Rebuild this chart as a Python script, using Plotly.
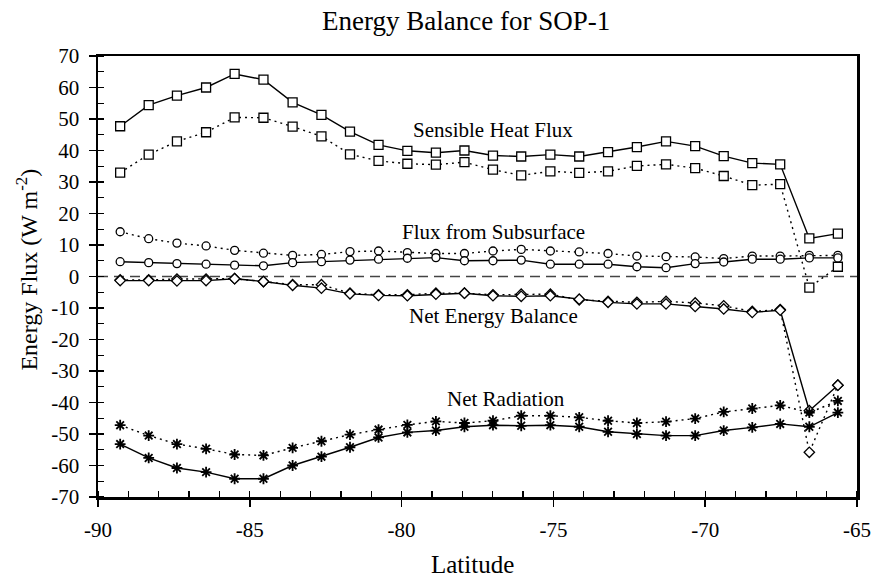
import plotly.graph_objects as go

latitude = [-89.27, -88.33, -87.40, -86.44, -85.50, -84.55, -83.59, -82.64, -81.70,
            -80.76, -79.81, -78.87, -77.93, -76.99, -76.06, -75.10, -74.15, -73.20,
            -72.25, -71.29, -70.33, -69.39, -68.45, -67.53, -66.57, -65.63]

sensible_solid = [47.7, 54.4, 57.4, 60.0, 64.3, 62.5, 55.3, 51.3, 46.0, 41.8, 39.9, 39.3, 40.0,
                  38.4, 38.1, 38.7, 38.1, 39.5, 41.1, 42.9, 41.4, 38.2, 36.0, 35.6, 12.1, 13.6]
sensible_dotted = [33.0, 38.7, 42.9, 45.8, 50.5, 50.4, 47.6, 44.5, 38.8, 36.7, 35.8, 35.5, 36.3,
                   33.9, 32.1, 33.4, 32.9, 33.4, 35.1, 35.6, 34.4, 31.9, 29.0, 29.3, -3.5, 3.1]

subsurf_solid = [4.7, 4.4, 4.1, 3.9, 3.6, 3.4, 4.4, 4.7, 5.2, 5.5, 5.8, 6.0, 5.0,
                 5.0, 5.2, 3.9, 3.9, 3.9, 3.1, 2.8, 4.1, 4.6, 5.5, 5.5, 5.9, 5.9]
subsurf_dotted = [14.2, 12.0, 10.6, 9.7, 8.3, 7.4, 6.7, 7.0, 7.9, 8.1, 7.6, 7.3, 7.3,
                  8.1, 8.6, 8.1, 7.8, 7.3, 6.5, 6.3, 6.2, 5.7, 6.5, 6.5, 6.7, 6.7]

balance_solid = [-1.3, -1.3, -1.4, -1.3, -0.7, -1.6, -2.8, -3.7, -5.5, -6.0, -6.1, -5.6, -5.3,
                 -6.1, -6.3, -6.1, -7.2, -8.2, -8.7, -8.7, -9.5, -10.3, -11.4, -10.7, -42.6, -34.5]
balance_dotted = [-1.1, -1.1, -0.8, -0.8, -0.7, -1.6, -2.6, -2.6, -5.3, -5.8, -5.8, -5.3, -5.3,
                  -5.8, -5.6, -5.6, -7.4, -7.9, -8.2, -7.9, -8.4, -9.3, -11.1, -10.5, -55.8, -34.5]

radiation_solid = [-53.2, -57.6, -60.8, -62.1, -64.2, -64.2, -60.0, -57.2, -54.2, -51.1, -49.5,
                   -48.9, -47.7, -47.2, -47.4, -47.2, -47.7, -49.3, -50.0, -50.5, -50.5, -48.9,
                   -47.9, -46.8, -47.7, -43.2]
radiation_dotted = [-47.2, -50.5, -53.2, -54.7, -56.5, -56.8, -54.4, -52.3, -50.2, -48.6, -47.1,
                    -46.0, -46.5, -45.8, -44.2, -44.2, -44.7, -45.8, -46.5, -46.1, -45.1, -43.0,
                    -41.9, -40.9, -43.2, -39.5]

x_tick_values = [-90, -85, -80, -75, -70, -65]
x_tick_labels = ["-90", "-85", "-80", "-75", "-70", "-65"]
y_tick_values = [70, 60, 50, 40, 30, 20, 10, 0, -10, -20, -30, -40, -50, -60, -70]
y_tick_labels = ["70", "60", "50", "40", "30", "20", "10", "0", "-10", "-20", "-30",
                 "-40", "-50", "-60", "-70"]

labels = ["Sensible Heat Flux", "Flux from Subsurface", "Net Energy Balance", "Net Radiation"]
label_x = [-76.98, -76.98, -76.96, -76.55]
label_y = [46.5, 14.0, -12.5, -38.8]

FONT = "'Times New Roman', 'Liberation Serif', 'DejaVu Serif', serif"
X_RANGE = [-90, -65]
Y_RANGE = [-70, 70]

fig = go.Figure()

series = [
    (sensible_dotted, "square", 9, "dot"),
    (sensible_solid, "square", 9, "solid"),
    (subsurf_dotted, "circle", 8, "dot"),
    (subsurf_solid, "circle", 8, "solid"),
    (balance_dotted, "diamond", 8, "dot"),
    (balance_solid, "diamond", 8, "solid"),
    (radiation_dotted, "asterisk-open", 9, "dot"),
    (radiation_solid, "asterisk-open", 9, "solid"),
]
for vals, sym, size, dash in series:
    is_ast = "asterisk" in sym
    fig.add_trace(go.Scatter(
        x=latitude, y=vals, mode="lines+markers",
        line=dict(color="black", width=1.4, dash="2px,4px" if dash == "dot" else "solid"),
        marker=dict(symbol=sym, size=size, color="black" if is_ast else "white",
                    line=dict(color="black", width=1.8 if is_ast else 1.3)),
        showlegend=False, hoverinfo="skip",
    ))

fig.add_shape(type="line", xref="paper", yref="y", x0=0, x1=1, y0=0, y1=0,
              line=dict(color="#444", width=1.3, dash="10px,6px"), layer="below")

for t, xx, yy in zip(labels, label_x, label_y):
    fig.add_annotation(x=xx, y=yy, text=t, showarrow=False,
                       font=dict(family=FONT, size=21, color="black"))

# title and axis titles
fig.add_annotation(xref="paper", yref="paper", x=0.485, y=1.079, text="Energy Balance for SOP-1",
                   showarrow=False, xanchor="center", yanchor="middle",
                   font=dict(family=FONT, size=27, color="black"))
fig.add_annotation(xref="paper", yref="paper", x=0.4936, y=-0.153, text="Latitude",
                   showarrow=False, xanchor="center", yanchor="middle",
                   font=dict(family=FONT, size=25, color="black"))
fig.add_annotation(xref="paper", yref="paper", x=-0.094, y=0.515,
                   text="Energy Flux (W m<sup>-2</sup>)", textangle=-90,
                   showarrow=False, xanchor="center", yanchor="middle",
                   font=dict(family=FONT, size=24, color="black"))

fig.update_layout(
    width=873, height=579,
    margin=dict(l=98, r=16, t=56, b=82, autoexpand=False),
    paper_bgcolor="white", plot_bgcolor="white",
    font=dict(family=FONT, color="black"),
    hovermode=False,
    xaxis2=dict(overlaying="x", side="bottom", range=X_RANGE, tickvals=x_tick_values,
                showticklabels=False, ticks="inside", ticklen=7, tickwidth=1.5,
                tickcolor="black", showgrid=False, zeroline=False, showline=False,
                automargin=False),
    yaxis2=dict(overlaying="y", side="left", range=Y_RANGE, tickvals=y_tick_values,
                showticklabels=False, ticks="inside", ticklen=7, tickwidth=1.5,
                tickcolor="black", showgrid=False, zeroline=False, showline=False,
                automargin=False),
    xaxis=dict(
        range=X_RANGE, tickvals=x_tick_values, ticktext=x_tick_labels,
        showgrid=False, zeroline=False, automargin=False,
        showline=True, linecolor="black", linewidth=2.5, mirror=True,
        ticks="outside", ticklen=7, tickwidth=1.5, tickcolor="black",
        minor=dict(dtick=1, tick0=-90, ticks="inside", ticklen=6, tickwidth=1.3, tickcolor="black"),
        tickfont=dict(family=FONT, size=21, color="black"),
        ticklabelstandoff=5,
    ),
    yaxis=dict(
        range=Y_RANGE, tickvals=y_tick_values, ticktext=y_tick_labels,
        showgrid=False, zeroline=False, automargin=False,
        showline=True, linecolor="black", linewidth=2.5, mirror=True,
        ticks="outside", ticklen=7, tickwidth=1.5, tickcolor="black",
        minor=dict(dtick=5, tick0=0, ticks="inside", ticklen=6, tickwidth=1.3, tickcolor="black"),
        tickfont=dict(family=FONT, size=21, color="black"),
        ticklabelstandoff=5,
    ),
)

fig.write_html("out.html", config={"displayModeBar": False, "staticPlot": True},
               post_script="document.body.style.margin='0px';document.body.style.overflow='hidden';")
